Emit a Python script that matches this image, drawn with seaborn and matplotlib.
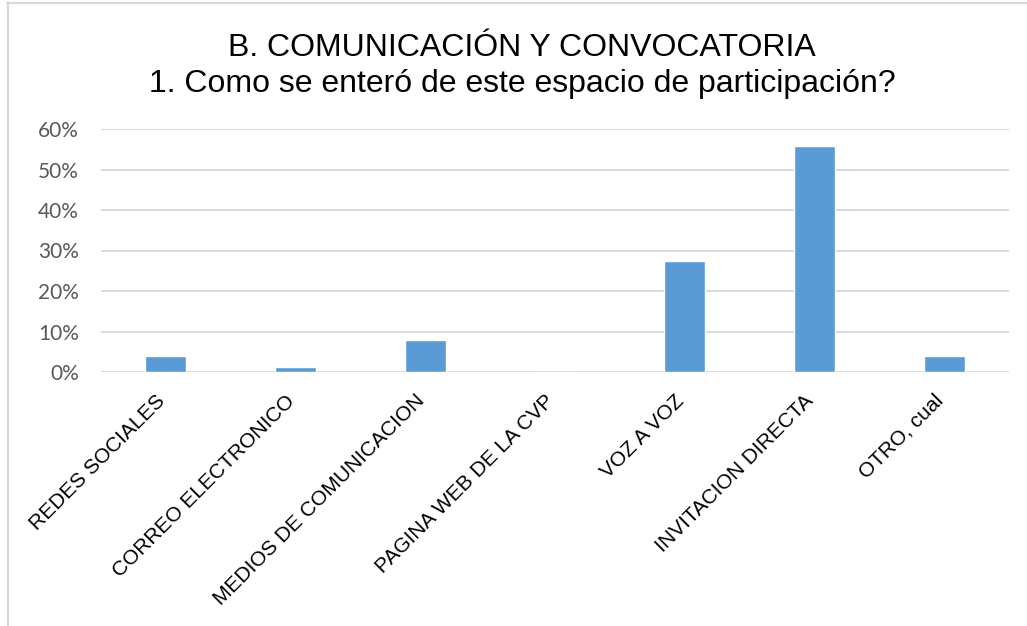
import matplotlib
matplotlib.use("Agg")
import matplotlib.pyplot as plt
from matplotlib.lines import Line2D
from matplotlib.ticker import PercentFormatter
import seaborn as sns
import pandas as pd

categories = ["REDES SOCIALES", "CORREO ELECTRONICO", "MEDIOS DE COMUNICACION",
              "PAGINA WEB DE LA CVP", "VOZ A VOZ", "INVITACION DIRECTA", "OTRO, cual"]
values = [0.039, 0.013, 0.078, 0.0, 0.273, 0.558, 0.039]
title_line1 = "B. COMUNICACIÓN Y CONVOCATORIA"
title_line2 = "1. Como se enteró de este espacio de participación?"

sns.set_theme(style="white")
plt.rcParams['font.family'] = ['Liberation Sans', 'DejaVu Sans']

W, H = 1027, 626
fig = plt.figure(figsize=(W / 100, H / 100), dpi=100)
fig.patch.set_facecolor("white")

ax = fig.add_axes([101 / W, 1 - 372 / H, (1009 - 101) / W, (372 - 129) / H])

df = pd.DataFrame({"cat": categories, "val": values})
sns.barplot(data=df, x="cat", y="val", color="#5B9BD5", saturation=1,
            width=0.315, ax=ax, zorder=3)

ax.set_xlim(-0.5, len(categories) - 0.5)
ax.set_ylim(0, 0.6)
ax.set_yticks([0, 0.1, 0.2, 0.3, 0.4, 0.5, 0.6])
ax.yaxis.set_major_formatter(PercentFormatter(1.0, decimals=0))
ax.set_xlabel("")
ax.set_ylabel("")
for s in ax.spines.values():
    s.set_visible(False)
ax.yaxis.grid(True, color="#D9D9D9", linewidth=1.4, zorder=0)
ax.xaxis.grid(False)
ax.set_axisbelow(True)

ax.tick_params(axis="y", length=0, pad=16, labelsize=15, labelcolor="#595959")
for lab in ax.get_yticklabels():
    lab.set_fontfamily(["Lato", "DejaVu Sans"])
ax.tick_params(axis="x", length=0, pad=21.5, labelsize=15, labelcolor="#000000")
for lab in ax.get_xticklabels():
    lab.set_rotation(45)
    lab.set_ha("right")
    lab.set_va("baseline")
    lab.set_rotation_mode("anchor")

fig.text(522 / W, 1 - 56 / H, title_line1, ha="center", va="baseline",
         fontsize=23, color="#000000")
fig.text(522 / W, 1 - 92 / H, title_line2, ha="center", va="baseline",
         fontsize=23, color="#000000")

# chart border (top and left visible)
fig.add_artist(Line2D([7 / W, 1.0], [1 - 2.5 / H, 1 - 2.5 / H], transform=fig.transFigure,
                      color="#D9D9D9", linewidth=1.5))
fig.add_artist(Line2D([7.5 / W, 7.5 / W], [0.0, 1 - 2 / H], transform=fig.transFigure,
                      color="#D9D9D9", linewidth=1.5))

fig.savefig("out.png", dpi=100, facecolor="white")
